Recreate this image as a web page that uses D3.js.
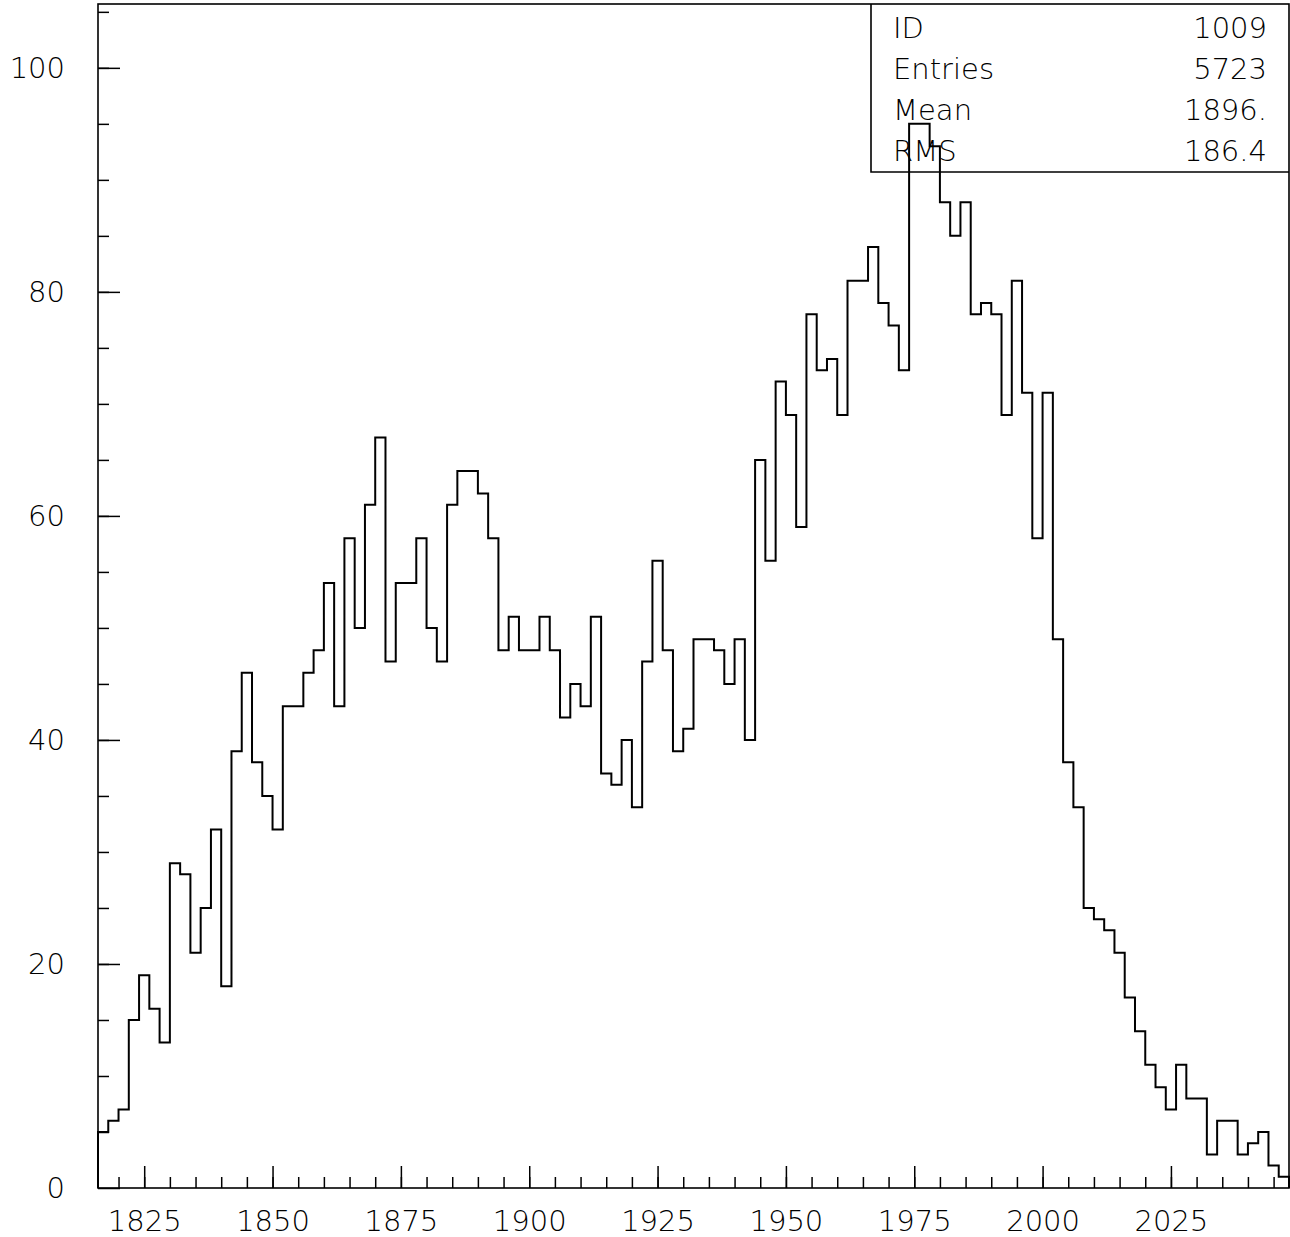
<!DOCTYPE html>
<html>
<head>
<meta charset="utf-8">
<script src="https://cdn.jsdelivr.net/npm/d3@7"></script>
<style>
  body { margin: 0; background: #fff; }
  text { font-family: "DejaVu Sans", "Liberation Sans", Arial, sans-serif; font-weight: 200; }
</style>
</head>
<body>
<div id="section"></div>
<script>
// DATA
const binLow = 1816;
const binHigh = 2048;
const counts = [
  5, 6, 7, 15, 19, 16, 13, 29, 28, 21,
  25, 32, 18, 39, 46, 38, 35, 32, 43, 43,
  46, 48, 54, 43, 58, 50, 61, 67, 47, 54,
  54, 58, 50, 47, 61, 64, 64, 62, 58, 48,
  51, 48, 48, 51, 48, 42, 45, 43, 51, 37,
  36, 40, 34, 47, 56, 48, 39, 41, 49, 49,
  48, 45, 49, 40, 65, 56, 72, 69, 59, 78,
  73, 74, 69, 81, 81, 84, 79, 77, 73, 95,
  95, 93, 88, 85, 88, 78, 79, 78, 69, 81,
  71, 58, 71, 49, 38, 34, 25, 24, 23, 21,
  17, 14, 11, 9, 7, 11, 8, 8, 3, 6,
  6, 3, 4, 5, 2, 1
];
const xTickLabels = [1825, 1850, 1875, 1900, 1925, 1950, 1975, 2000, 2025];
const yTickLabels = [0, 20, 40, 60, 80, 100];
const statsLabels = ["ID", "Entries", "Mean", "RMS"];
const statsValues = ["1009", "5723", "1896.", "186.4"];

const MARGIN = { top: 4, right: 1, bottom: 49, left: 98 };
const WIDTH = 1290 - MARGIN.left - MARGIN.right;
const HEIGHT = 1237 - MARGIN.top - MARGIN.bottom;

// CREATE SVG
let svg = d3
  .select("#section")
  .append("svg")
  .attr("width", 1290)
  .attr("height", 1237)
  .append("g")
  .attr("transform", `translate(${MARGIN.left}, ${MARGIN.top})`);

// SCALES
let xScale = d3.scaleLinear().domain([binLow, binHigh]).range([0, WIDTH]);
let yScale = d3.scaleLinear().domain([0, 105.7]).range([HEIGHT, 0]);
const binWidth = (binHigh - binLow) / counts.length;

// MINOR TICKS
svg.append("g")
  .attr("transform", `translate(0, ${HEIGHT})`)
  .call(d3.axisBottom(xScale)
    .tickValues(d3.range(1820, binHigh, 5))
    .tickSizeInner(-11).tickSizeOuter(0).tickFormat(""))
  .call(g => g.select(".domain").remove());

svg.append("g")
  .call(d3.axisLeft(yScale)
    .tickValues(d3.range(5, 106, 5))
    .tickSizeInner(-11).tickSizeOuter(0).tickFormat(""))
  .call(g => g.select(".domain").remove());

// MAJOR TICKS + LABELS
svg.append("g")
  .attr("transform", `translate(0, ${HEIGHT})`)
  .call(d3.axisBottom(xScale)
    .tickValues(xTickLabels)
    .tickSizeInner(-22).tickSizeOuter(0).tickPadding(22)
    .tickFormat(d3.format("d")))
  .call(g => g.select(".domain").remove())
  .call(g => g.selectAll("text").attr("font-size", 29).attr("fill", "#000"));

svg.append("g")
  .call(d3.axisLeft(yScale)
    .tickValues(yTickLabels)
    .tickSizeInner(-22).tickSizeOuter(0).tickPadding(33))
  .call(g => g.select(".domain").remove())
  .call(g => g.selectAll("text").attr("font-size", 29).attr("fill", "#000"));

svg.selectAll(".tick line").attr("stroke", "#000").attr("stroke-width", 1.5);

// HISTOGRAM
const pts = [[binLow, 0]];
counts.forEach((c, i) => pts.push([binLow + i * binWidth, c]));
pts.push([binHigh, counts[counts.length - 1]]);
pts.push([binHigh, 0]);

const line = d3.line()
  .x(d => xScale(d[0]))
  .y(d => yScale(d[1]))
  .curve(d3.curveStepAfter);

svg.append("path")
  .datum(pts)
  .attr("fill", "none")
  .attr("stroke", "#000")
  .attr("stroke-width", 2)
  .attr("d", line);

// FRAME
svg.append("rect")
  .attr("x", 0).attr("y", 0)
  .attr("width", WIDTH).attr("height", HEIGHT)
  .attr("fill", "none")
  .attr("stroke", "#000")
  .attr("stroke-width", 1.6);

// STATS BOX
const boxLeft = 871 - MARGIN.left;
const boxBottom = 172 - MARGIN.top;
svg.append("path")
  .attr("d", `M${boxLeft},0V${boxBottom}H${WIDTH}`)
  .attr("fill", "none")
  .attr("stroke", "#000")
  .attr("stroke-width", 1.6);

const rows = svg.append("g").selectAll("g")
  .data(statsLabels)
  .enter()
  .append("g")
  .attr("transform", (d, i) => `translate(0, ${34 + i * 41})`);

rows.append("text")
  .attr("x", 893 - MARGIN.left)
  .attr("font-size", 29)
  .text(d => d);

rows.append("text")
  .attr("x", 1267 - MARGIN.left)
  .attr("font-size", 29)
  .attr("text-anchor", "end")
  .text((d, i) => statsValues[i]);
</script>
</body>
</html>
